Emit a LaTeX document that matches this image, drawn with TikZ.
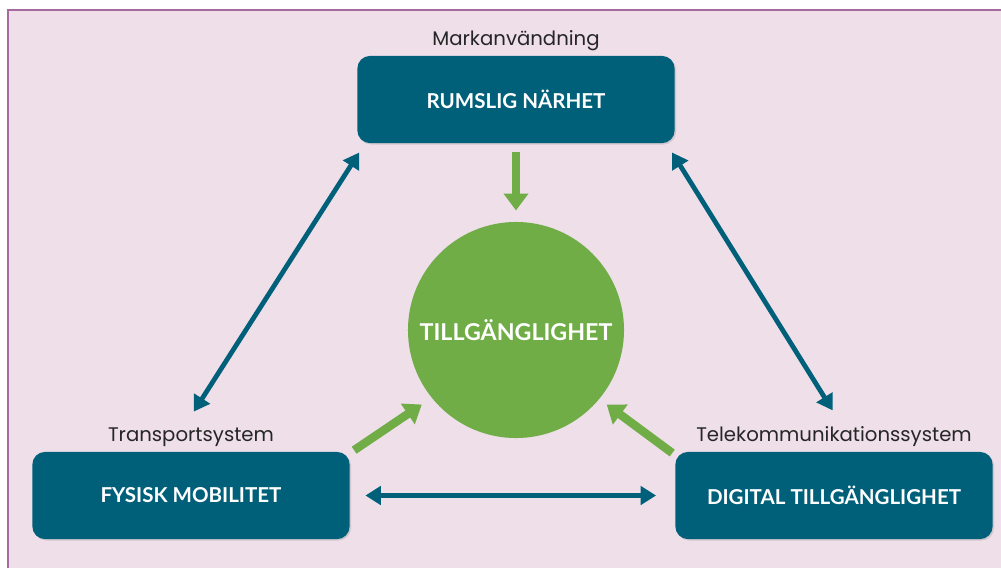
\documentclass[tikz,border=0pt]{standalone}
\usepackage{fontspec}
\setmainfont{Poppins}
\newfontfamily\boxfont{Lato}
\usetikzlibrary{arrows.meta,shadows}

\definecolor{teal}{HTML}{00607A}
\definecolor{leaf}{HTML}{70AD47}
\definecolor{pinkbg}{HTML}{EEDFE9}
\definecolor{plum}{HTML}{A66A9E}

\tikzset{
	area/.style={rectangle, rounded corners=9pt, fill=teal, minimum width=7.93cm, minimum height=2.18cm,
		text=white, font=\boxfont\bfseries\fontsize{14.6}{16}\selectfont,
		drop shadow={opacity=0.25, shadow xshift=1pt, shadow yshift=-1pt}},
	sys/.style={font=\fontsize{14}{16}\selectfont, text=black!85},
	link/.style={{Triangle[length=11pt,width=13pt]}-{Triangle[length=11pt,width=13pt]}, line width=3.4pt, teal},
	feed/.style={-{Triangle[length=12pt,width=17pt]}, line width=6pt, leaf}
}

\begin{document}
\begin{tikzpicture}[x=0.025cm, y=-0.025cm]
	\useasboundingbox (0,0) rectangle (1001,568);
	% background sheet
	\fill[pinkbg] (8,10) rectangle (1001,568);
	\draw[plum, line width=2pt] (8,568) -- (8,10) -- (1001,10);

	% the three areas
	\node[area] (rum) at (516,99.5) {RUMSLIG NÄRHET};
	\node[area] (fys) at (191,495.5) {FYSISK MOBILITET};
	\node[area] (dig) at (834,495.5) {DIGITAL TILLGÄNGLIGHET};
	\node[sys, above=0pt] (rumsys) at (rum.north) {Markanvändning};
	\node[sys, above=0pt] (fyssys) at (fys.north) {Transportsystem};
	\node[sys, above=0pt] (digsys) at (dig.north) {Telekommunikationssystem};

	% centre
	\node[circle, fill=leaf, minimum size=5.4cm, text=white, font=\boxfont\bfseries\fontsize{16.5}{19}\selectfont] (till) at (516,330) {TILLGÄNGLIGHET};

	% connections between areas
	\draw[link] ([shift={(2pt,8pt)}]fyssys.north) -- ([shift={(1.5pt,-6.5pt)}]rum.south west);
	\draw[link] ([shift={(-2pt,-6.5pt)}]rum.south east) -- ([shift={(-1pt,8pt)}]digsys.north);
	\draw[link] ([xshift=11pt]fys.east) -- ([xshift=-13.5pt]dig.west);

	% contributions to the centre
	\draw[feed] ([yshift=-6pt]rum.south) -- ([yshift=8pt]till.north);
	\draw[feed] ([shift={(3pt,1pt)}]fys.north east) -- ([shift={(-67pt,-53pt)}]till.center);
	\draw[feed] ([shift={(-2pt,-1pt)}]dig.north west) -- ([shift={(64.5pt,-53pt)}]till.center);
\end{tikzpicture}
\end{document}
